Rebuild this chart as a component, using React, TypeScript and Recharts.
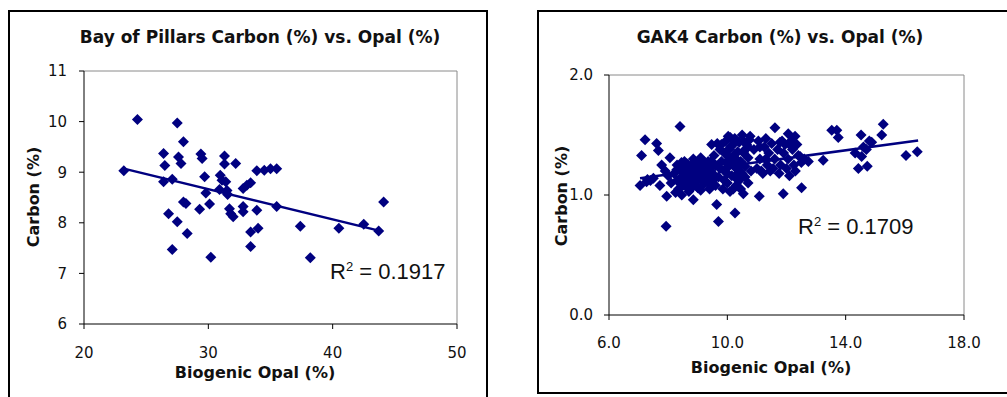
import React from 'react';
import { ScatterChart, Scatter, XAxis, YAxis, ReferenceLine } from 'recharts';

// Bay of Pillars: biogenic opal (%) vs. carbon (%)
const BOP_POINTS: [number, number][] = [
  [23.2, 9.03], [24.3, 10.04], [26.4, 9.37], [26.5, 9.13], [26.4, 8.81], [27.1, 8.86],
  [26.8, 8.18], [27.5, 8.02], [27.1, 7.47], [27.5, 9.97], [27.6, 9.3], [27.8, 9.17],
  [28.0, 9.6], [28.0, 8.41], [28.2, 8.38], [28.3, 7.79], [29.4, 9.36], [29.5, 9.27],
  [29.7, 8.91], [29.8, 8.59], [29.3, 8.27], [30.1, 8.37], [30.2, 7.32], [30.96, 8.94],
  [31.3, 9.32], [31.3, 9.16], [31.1, 8.84], [31.4, 8.81], [31.5, 8.64], [31.55, 8.56],
  [30.9, 8.66], [31.7, 8.28], [31.8, 8.18], [32.0, 8.12], [32.2, 9.17], [32.8, 8.68],
  [33.1, 8.74], [33.4, 8.79], [32.8, 8.32], [32.8, 8.22], [33.4, 7.82], [33.4, 7.53],
  [33.9, 8.25], [34.0, 7.89], [33.9, 9.03], [34.5, 9.04], [35.0, 9.07], [35.5, 9.07],
  [35.5, 8.32], [37.4, 7.93], [38.2, 7.31], [40.5, 7.89], [42.5, 7.97], [43.7, 7.84],
  [44.1, 8.41],
];
const BOP_TREND: [number, number][] = [[23.2, 9.07], [43.8, 7.84]];
const BOP_X_TICKS = [20, 30, 40, 50];
const BOP_Y_TICKS = [6, 7, 8, 9, 10, 11];

// GAK4: biogenic opal (%) vs. carbon (%)
const GAK4_POINTS: [number, number][] = [
  // sparse points
  [7.05, 1.08], [7.1, 1.33], [7.22, 1.46], [7.27, 1.11], [7.61, 1.43], [7.67, 1.37],
  [7.72, 1.08], [7.78, 1.25], [7.95, 0.99], [7.93, 0.74], [8.06, 1.31], [8.4, 1.57],
  [8.29, 1.21], [8.46, 1.0], [8.85, 0.96], [8.63, 1.26], [9.47, 1.42], [9.66, 1.43],
  [9.64, 0.92], [9.7, 0.78], [10.26, 0.85], [10.03, 1.49], [10.09, 1.03], [10.54, 1.01],
  [10.77, 1.49], [11.08, 0.99], [11.61, 1.56], [11.78, 1.44], [11.89, 1.01], [12.06, 1.51],
  [12.29, 1.49], [12.51, 1.06], [12.46, 1.32], [12.74, 1.28], [13.24, 1.29], [13.53, 1.54],
  [13.7, 1.54], [13.75, 1.48], [14.32, 1.35], [14.52, 1.5], [14.43, 1.22], [14.73, 1.24],
  [14.54, 1.32], [14.88, 1.44], [15.27, 1.59], [15.22, 1.5], [16.04, 1.33], [16.42, 1.36],
  [14.6, 1.4], [14.7, 1.38], [14.8, 1.45],
  // cluster around 8-9.6
  [8.2, 1.18], [8.3, 1.12], [8.35, 1.05], [8.4, 1.22], [8.45, 1.15], [8.5, 1.08],
  [8.55, 1.28], [8.6, 1.19], [8.65, 1.12], [8.7, 1.03], [8.75, 1.24], [8.8, 1.16],
  [8.85, 1.3], [8.9, 1.1], [8.95, 1.2], [9.0, 1.26], [9.0, 1.06], [9.05, 1.14],
  [9.1, 1.31], [9.15, 1.19], [9.2, 1.09], [9.25, 1.24], [9.3, 1.15], [9.35, 1.28],
  [9.4, 1.05], [9.45, 1.2], [9.5, 1.12], [9.55, 1.33], [9.6, 1.25], [9.6, 1.08],
  [8.6, 1.25], [8.8, 1.22], [8.95, 1.13], [9.1, 1.04], [9.25, 1.17], [8.7, 1.17],
  [8.9, 1.27], [9.4, 1.22], [8.5, 1.2], [8.3, 1.25], [8.1, 1.1], [8.0, 1.16],
  [7.9, 1.2], [7.5, 1.14], [7.4, 1.12], [7.3, 1.13], [8.25, 1.02],
  [8.4, 1.1], [8.55, 1.14], [8.65, 1.06], [8.75, 1.1], [8.85, 1.2], [9.05, 1.22],
  [9.15, 1.12], [9.2, 1.28], [9.3, 1.22], [9.35, 1.1], [9.5, 1.18], [8.45, 1.27],
  [9.0, 1.18], [8.8, 1.06], [9.45, 1.28],
  // cluster around 9.7-10.8
  [9.7, 1.15], [9.75, 1.38], [9.8, 1.28], [9.85, 1.05], [9.9, 1.2], [9.95, 1.45],
  [10.0, 1.33], [10.0, 1.1], [10.05, 1.24], [10.1, 1.4], [10.15, 1.16], [10.2, 1.3],
  [10.2, 1.05], [10.25, 1.47], [10.3, 1.22], [10.35, 1.36], [10.4, 1.12], [10.4, 1.44],
  [10.45, 1.28], [10.5, 1.18], [10.5, 1.5], [10.55, 1.35], [10.6, 1.24], [10.65, 1.42],
  [10.7, 1.1], [10.7, 1.31], [10.75, 1.46], [10.8, 1.2], [9.9, 1.35], [10.1, 1.48],
  [10.3, 1.08], [10.6, 1.38], [9.8, 1.42], [10.0, 1.18], [10.45, 1.05], [10.25, 1.34],
  [10.15, 1.26],
  [9.75, 1.22], [9.9, 1.12], [10.05, 1.38], [10.1, 1.3], [10.2, 1.42], [10.3, 1.3],
  [10.35, 1.18], [10.55, 1.45], [10.6, 1.15], [10.7, 1.4], [10.4, 1.24], [9.95, 1.27],
  [10.25, 1.15],
  // cluster around 10.9-12.6
  [10.9, 1.38], [11.0, 1.22], [11.05, 1.45], [11.1, 1.3], [11.2, 1.18], [11.25, 1.4],
  [11.3, 1.47], [11.35, 1.25], [11.4, 1.35], [11.45, 1.2], [11.5, 1.43], [11.6, 1.3],
  [11.7, 1.38], [11.75, 1.18], [11.8, 1.25], [11.9, 1.35], [11.95, 1.42], [12.0, 1.22],
  [12.05, 1.3], [12.1, 1.16], [12.15, 1.45], [12.2, 1.38], [12.25, 1.25], [12.3, 1.2],
  [12.35, 1.42], [12.4, 1.33], [12.5, 1.27], [12.6, 1.3], [11.15, 1.2],
  [11.1, 1.4], [11.3, 1.3], [11.55, 1.22], [11.85, 1.45], [12.1, 1.42],
];
const GAK4_TREND: [number, number][] = [[7.05, 1.14], [16.45, 1.455]];
const GAK4_X_TICKS = [6, 10, 14, 18];
const GAK4_Y_TICKS = [0, 1, 2];

const NAVY = '#000080';
const TICK_FONT = { fontFamily: 'DejaVu Sans', fontSize: 15, fill: '#111' };
const BOLD: React.CSSProperties = { fontFamily: 'DejaVu Sans', fontWeight: 'bold', fontSize: 16, color: '#111', lineHeight: 1, whiteSpace: 'nowrap', position: 'absolute' };

const toRows = (pts: [number, number][]) => pts.map(([x, y]) => ({ x, y }));

const Diamond = (props: any) => {
  const { cx, cy } = props;
  const r = 5.5;
  return <polygon points={`${cx},${cy - r} ${cx + r},${cy} ${cx},${cy + r} ${cx - r},${cy}`} fill={NAVY} />;
};

const NoDot = () => <g />;

function Panel(props: {
  left: number; width: number; height: number;
  margin: { top: number; right: number };
  yWidth: number; xHeight: number; yTickMargin: number; xTickMargin: number;
  points: [number, number][]; trend: [number, number][];
  xTicks: number[]; yTicks: number[]; fmt: (v: number) => string;
}) {
  const { xTicks, yTicks } = props;
  const xMin = xTicks[0], xMax = xTicks[xTicks.length - 1];
  const yMin = yTicks[0], yMax = yTicks[yTicks.length - 1];
  return (
    <div style={{ position: 'absolute', left: props.left, top: 0 }}>
      <ScatterChart width={props.width} height={props.height}
        margin={{ top: props.margin.top, right: props.margin.right, left: 0, bottom: 0 }}>
        <XAxis type="number" dataKey="x" domain={[xMin, xMax]} ticks={xTicks} height={props.xHeight}
          tickFormatter={props.fmt} tick={TICK_FONT} tickSize={5} tickMargin={props.xTickMargin}
          axisLine={{ stroke: '#000' }} tickLine={{ stroke: '#000' }} interval={0} />
        <YAxis type="number" dataKey="y" domain={[yMin, yMax]} ticks={yTicks} width={props.yWidth}
          tickFormatter={props.fmt} tick={TICK_FONT} tickSize={5} tickMargin={props.yTickMargin}
          axisLine={{ stroke: '#000' }} tickLine={{ stroke: '#000' }} interval={0} />
        <ReferenceLine y={yMax} stroke="#8a8a8a" />
        <ReferenceLine x={xMax} stroke="#8a8a8a" />
        <Scatter data={toRows(props.points)} shape={Diamond} isAnimationActive={false} />
        <Scatter data={toRows(props.trend)} line={{ stroke: NAVY, strokeWidth: 2.5 }} lineType="joint"
          shape={NoDot} isAnimationActive={false} />
      </ScatterChart>
    </div>
  );
}

export default function App() {
  return (
    <div style={{ position: 'fixed', left: 0, top: 0, width: 1007, height: 397, background: '#fff', overflow: 'hidden' }}>
      {/* frames */}
      <div style={{ position: 'absolute', left: 8, top: 10, width: 480, height: 400, border: '2px solid #000', boxSizing: 'border-box' }} />
      <div style={{ position: 'absolute', left: 537, top: 10, width: 490, height: 384, border: '2px solid #000', boxSizing: 'border-box' }} />

      <Panel left={0} width={488} height={397} margin={{ top: 71, right: 31 }} yWidth={84} xHeight={73}
        yTickMargin={12} xTickMargin={18} points={BOP_POINTS} trend={BOP_TREND}
        xTicks={BOP_X_TICKS} yTicks={BOP_Y_TICKS} fmt={(v) => String(v)} />
      <Panel left={530} width={477} height={397} margin={{ top: 75, right: 43 }} yWidth={79} xHeight={82}
        yTickMargin={11} xTickMargin={17} points={GAK4_POINTS} trend={GAK4_TREND}
        xTicks={GAK4_X_TICKS} yTicks={GAK4_Y_TICKS} fmt={(v) => v.toFixed(1)} />

      {/* left labels */}
      <div style={{ ...BOLD, fontSize: 17, left: 260, top: 37, transform: 'translate(-50%, -50%)' }}>Bay of Pillars Carbon (%) vs. Opal (%)</div>
      <div style={{ ...BOLD, left: 255, top: 373, transform: 'translate(-50%, -50%)' }}>Biogenic Opal (%)</div>
      <div style={{ ...BOLD, left: 34, top: 197, transform: 'translate(-50%, -50%) rotate(-90deg)' }}>Carbon (%)</div>
      <div style={{ position: 'absolute', left: 330, top: 261, fontFamily: 'Liberation Sans', fontSize: 22, lineHeight: 1, color: '#111', whiteSpace: 'nowrap' }}>
        R<sup style={{ fontSize: 13, lineHeight: 0 }}>2</sup> = 0.1917
      </div>

      {/* right labels */}
      <div style={{ ...BOLD, fontSize: 17, left: 780, top: 37, transform: 'translate(-50%, -50%)' }}>GAK4 Carbon (%) vs. Opal (%)</div>
      <div style={{ ...BOLD, left: 771, top: 368, transform: 'translate(-50%, -50%)' }}>Biogenic Opal (%)</div>
      <div style={{ ...BOLD, left: 562, top: 196, transform: 'translate(-50%, -50%) rotate(-90deg)' }}>Carbon (%)</div>
      <div style={{ position: 'absolute', left: 798, top: 216, fontFamily: 'Liberation Sans', fontSize: 22, lineHeight: 1, color: '#111', whiteSpace: 'nowrap' }}>
        R<sup style={{ fontSize: 13, lineHeight: 0 }}>2</sup> = 0.1709
      </div>
    </div>
  );
}
